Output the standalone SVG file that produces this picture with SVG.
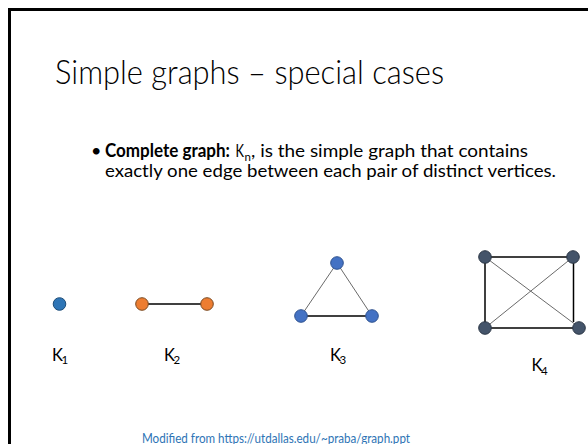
<svg xmlns="http://www.w3.org/2000/svg" width="588" height="444" viewBox="0 0 588 444">
<style>
.t{font-family:Lato,"Open Sans","Liberation Sans",sans-serif;fill:#000}
.title{font-size:33.5px;font-weight:300}
.body{font-size:18px}
.lbl{font-size:16.5px}
.sub{font-size:11.5px}
.thick{stroke:#000;stroke-width:1.5;fill:none}
.thin{stroke:#595959;stroke-width:0.9;fill:none}
.n1{fill:#2E75B6;stroke:#1F4E79;stroke-width:1}
.n2{fill:#ED7D31;stroke:#7A4A22;stroke-width:1}
.n3{fill:#4472C4;stroke:#2F528F;stroke-width:1}
.n4{fill:#44546A;stroke:#2B3645;stroke-width:1}
</style>
<rect width="588" height="444" fill="#fff"/>
<path d="M9.5 444 V9.5 H588" fill="none" stroke="#000" stroke-width="3"/>
<text class="t title" x="55" y="84" textLength="389" lengthAdjust="spacingAndGlyphs">Simple graphs – special cases</text>
<g id="bullet">
<text class="t body" x="91" y="157">•</text>
<text class="t body" x="105" y="157"><tspan font-weight="bold" textLength="125" lengthAdjust="spacingAndGlyphs">Complete graph:</tspan><tspan x="235.5" textLength="8.5" lengthAdjust="spacingAndGlyphs">K</tspan><tspan class="sub" x="244.5" y="160.5">n</tspan><tspan x="251" y="157" textLength="277" lengthAdjust="spacingAndGlyphs">, is the simple graph that contains</tspan></text>
<text class="t body" x="105" y="177" textLength="451" lengthAdjust="spacingAndGlyphs">exactly one edge between each pair of distinct vertices.</text>
</g>
<g id="connectors">
<line class="thick" x1="142" y1="304" x2="207" y2="304" stroke-width="1.3"/>
<line class="thin" x1="337" y1="263" x2="301" y2="316"/>
<line class="thin" x1="337" y1="263" x2="372" y2="316"/>
<line class="thick" x1="301" y1="316" x2="372" y2="316"/>
<line class="thick" x1="485" y1="257" x2="573" y2="257"/>
<line class="thick" x1="485" y1="257" x2="485" y2="328"/>
<line class="thick" x1="485" y1="328" x2="579" y2="328"/>
<line class="thick" x1="573.5" y1="257" x2="573.5" y2="322"/>
<line class="thin" x1="485" y1="257" x2="576" y2="325"/>
<line class="thin" x1="573" y1="257" x2="485" y2="328"/>
</g>
<g id="k1"><circle class="n1" cx="59.5" cy="304" r="6.3"/></g>
<g id="k2a"><circle class="n2" cx="142" cy="304" r="6.3"/></g>
<g id="k2b"><circle class="n2" cx="207" cy="304" r="6.3"/></g>
<g id="k3a"><circle class="n3" cx="337" cy="263" r="6.3"/></g>
<g id="k3b"><circle class="n3" cx="301" cy="316" r="6.3"/></g>
<g id="k3c"><circle class="n3" cx="372" cy="316" r="6.3"/></g>
<g id="k4a"><circle class="n4" cx="485" cy="257" r="6.3"/></g>
<g id="k4b"><circle class="n4" cx="573" cy="257" r="6.3"/></g>
<g id="k4c"><circle class="n4" cx="485" cy="328" r="6.3"/></g>
<g id="k4d"><circle class="n4" cx="579" cy="328" r="6.3"/></g>
<g id="labels">
<text class="t lbl" x="52" y="361">K<tspan class="sub" x="61.5" y="364">1</tspan></text>
<text class="t lbl" x="164" y="361">K<tspan class="sub" x="173.5" y="364">2</tspan></text>
<text class="t lbl" x="330" y="361">K<tspan class="sub" x="339.5" y="364">3</tspan></text>
<text class="t lbl" x="531.5" y="371">K<tspan class="sub" x="541" y="374.5">4</tspan></text>
</g>
<text class="t" x="142" y="442.5" font-size="14" fill="#2E74B5" style="fill:#2E74B5" textLength="268" lengthAdjust="spacingAndGlyphs">Modified from https://utdallas.edu/~praba/graph.ppt</text>
</svg>
